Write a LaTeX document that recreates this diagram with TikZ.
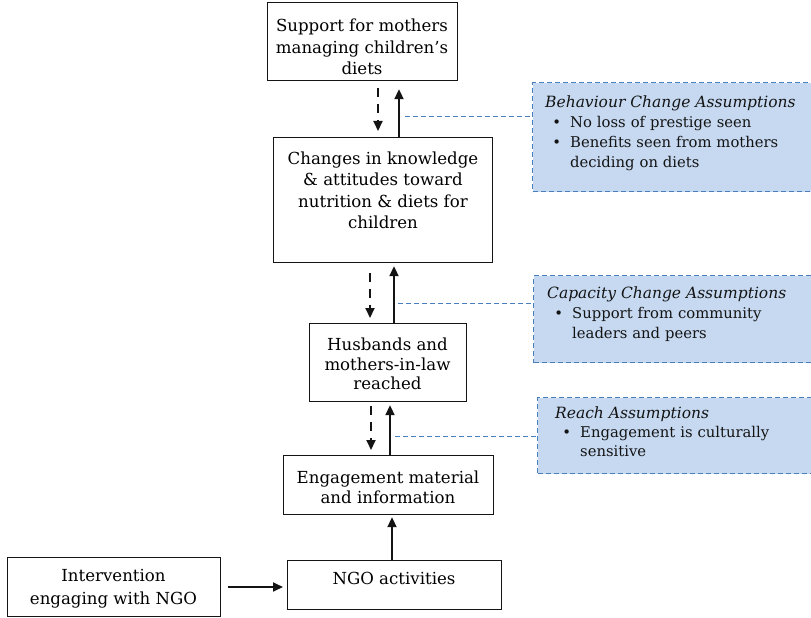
\documentclass[tikz,border=0pt]{standalone}
\usepackage{fontspec}
\setmainfont{DejaVu Serif}
\usetikzlibrary{arrows.meta}
\definecolor{asmfill}{RGB}{198,217,241}
\definecolor{asmline}{RGB}{74,126,187}
\definecolor{inkgray}{RGB}{20,20,20}
% bullet line with hanging indent
\newcommand\abullet[1]{\par\leftskip=25bp\noindent\llap{\textbullet\hskip 9bp}#1\par}
\newcommand\asmhead[1]{{\fontsize{15.5bp}{20bp}\selectfont\itshape #1}\par}
\begin{document}
\begin{tikzpicture}[x=1bp,y=-1bp,
  stepbox/.style={draw=inkgray, line width=1.2bp, inner sep=0, anchor=north west},
  boxtext/.style={align=center, inner sep=0, text=black,
    font=\fontsize{16.6bp}{21.5bp}\selectfont},
  asmbox/.style={draw=asmline, fill=asmfill, dash pattern=on 5bp off 3bp,
    line width=1.1bp, inner sep=0, anchor=north west},
  asmtext/.style={align=left, inner sep=0, anchor=north west, text width=262bp,
    text=inkgray, font=\fontsize{14.8bp}{20bp}\selectfont},
  solidarrow/.style={draw=inkgray, line width=2bp, -{Triangle[width=9bp,length=10bp]}},
  dasharrow/.style={solidarrow, dash pattern=on 9bp off 7bp},
  blueline/.style={draw=asmline, line width=1bp, dash pattern=on 5bp off 3bp}
]
\useasboundingbox (0,0) rectangle (811,618);
\clip (0,0) rectangle (811,618);

% outcome chain
\node[stepbox, minimum width=190bp, minimum height=78bp] (b1) at (267,2) {};
\node[boxtext] (b1t) at (362,47) {Support for mothers\\managing children’s\\diets};

\node[stepbox, minimum width=219bp, minimum height=125bp] (b2) at (273,137) {};
\node[boxtext] (b2t) at (383,190.5) {Changes in knowledge\\\& attitudes toward\\nutrition \& diets for\\children};

\node[stepbox, minimum width=157bp, minimum height=78bp] (b3) at (309,323) {};
\node[boxtext, font=\fontsize{16.6bp}{19.5bp}\selectfont] (b3t) at (387.5,364) {Husbands and\\mothers-in-law\\reached};

\node[stepbox, minimum width=210bp, minimum height=59bp] (b4) at (283,455) {};
\node[boxtext, font=\fontsize{16.6bp}{20bp}\selectfont] (b4t) at (388,487.5) {Engagement material\\and information};

\node[stepbox, minimum width=214bp, minimum height=49bp] (b5) at (287,560) {};
\node[boxtext] (b5t) at (394,578) {NGO activities};

\node[stepbox, minimum width=213bp, minimum height=59bp] (b6) at (7,557) {};
\node[boxtext, font=\fontsize{16.6bp}{23bp}\selectfont] (b6t) at (113.5,588.5) {Intervention\\engaging with NGO};

% assumption panels
\node[asmbox, minimum width=283bp, minimum height=109bp] (a1) at (532,82) {};
\node[asmtext] (a1t) at (545,96) {\asmhead{Behaviour Change Assumptions}
  \abullet{No loss of prestige seen}
  \abullet{Benefits seen from mothers\newline deciding on diets}};

\node[asmbox, minimum width=283bp, minimum height=87bp] (a2) at (533,275) {};
\node[asmtext] (a2t) at (547,287) {\asmhead{Capacity Change Assumptions}
  \abullet{Support from community\newline leaders and peers}};

\node[asmbox, minimum width=283bp, minimum height=76bp] (a3) at (537,397) {};
\node[asmtext, font=\fontsize{14.8bp}{19bp}\selectfont] (a3t) at (555,407) {\asmhead{Reach Assumptions}
  \abullet{Engagement is culturally\newline sensitive}};

% columns of the vertical arrows
\coordinate (d1) at (378,0);  \coordinate (u1) at (399,0);
\coordinate (d2) at (370,0);  \coordinate (u2) at (394,0);
\coordinate (d3) at (371,0);  \coordinate (u3) at (390,0);
\coordinate (u4) at (392,0);
\coordinate (h1) at (0,587);

\draw[dasharrow, shorten <=7bp, shorten >=6bp] (b1.south -| d1) -- (b2.north -| d1);
\draw[solidarrow, shorten >=8bp] (b2.north -| u1) -- (b1.south -| u1);

\draw[dasharrow, shorten <=10bp, shorten >=5bp] (b2.south -| d2) -- (b3.north -| d2);
\draw[solidarrow, shorten >=3bp] (b3.north -| u2) -- (b2.south -| u2);

\draw[dasharrow, shorten <=4bp, shorten >=5bp] (b3.south -| d3) -- (b4.north -| d3);
\draw[solidarrow, shorten >=3bp] (b4.north -| u3) -- (b3.south -| u3);

\draw[solidarrow, shorten >=2bp] (b5.north -| u4) -- (b4.south -| u4);
\draw[solidarrow, shorten <=7bp, shorten >=4bp] (b6.east |- h1) -- (b5.west |- h1);

% links to the assumption panels
\coordinate (c1) at (405,117);
\coordinate (c2) at (398,303);
\coordinate (c3) at (395,436);
\draw[blueline] (c1) -- (c1 -| a1.west);
\draw[blueline] (c2) -- (c2 -| a2.west);
\draw[blueline] (c3) -- (c3 -| a3.west);
\end{tikzpicture}
\end{document}
